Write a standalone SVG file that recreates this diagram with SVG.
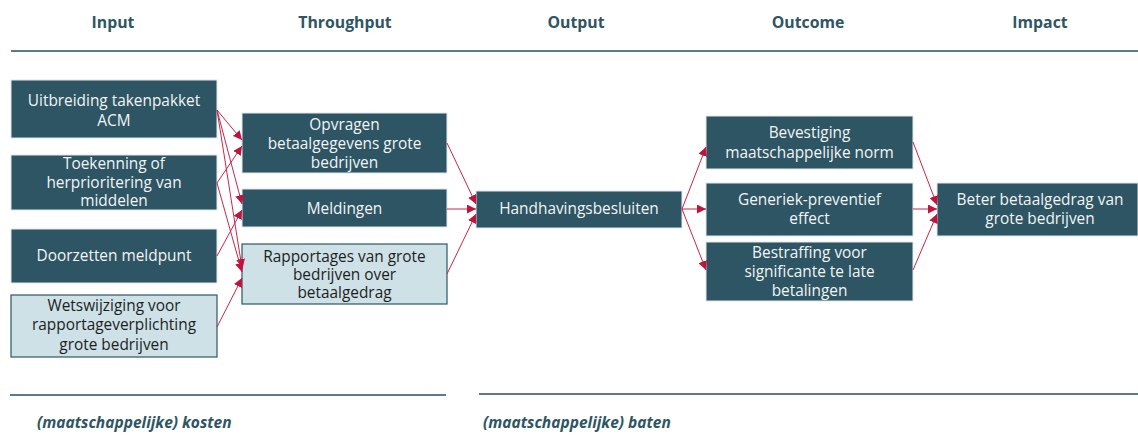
<svg xmlns="http://www.w3.org/2000/svg" width="1138" height="435" viewBox="0 0 1138 435">
<defs>
<marker id="ah" viewBox="0 0 10 10" refX="10" refY="5" markerWidth="9" markerHeight="9" markerUnits="userSpaceOnUse" orient="auto">
<path d="M0,0 L10,5 L0,10 z" fill="#c0143c"/>
</marker>
</defs>
<style>
.hdr{font-family:"Open Sans","Noto Sans",sans-serif;font-weight:bold;font-size:15.8px;fill:#2e5563;text-anchor:middle}
.ftr{font-family:"Open Sans","Noto Sans",sans-serif;font-weight:bold;font-style:italic;font-size:15.5px;fill:#2e5563}
.dark rect{fill:#2e5563;stroke:#dfe8ec;stroke-width:1}
.dark text{font-family:"Open Sans","Noto Sans",sans-serif;font-size:15.4px;fill:#f2f4f5;text-anchor:middle}
.light rect{fill:#cde1e7;stroke:#2e5563;stroke-width:1.2}
.light text{font-family:"Open Sans","Noto Sans",sans-serif;font-size:15.4px;fill:#1e1e1e;text-anchor:middle}
.rule{stroke:#5b7b89;stroke-width:2}
.conn line{stroke:#c8264a;stroke-width:1;marker-end:url(#ah)}
</style>
<rect width="1138" height="435" fill="#ffffff"/>
<g id="headers">
<text class="hdr" x="113" y="28">Input</text>
<text class="hdr" x="345" y="28">Throughput</text>
<text class="hdr" x="576" y="28">Output</text>
<text class="hdr" x="808" y="28">Outcome</text>
<text class="hdr" x="1040" y="28">Impact</text>
<line class="rule" x1="11" y1="51" x2="1138" y2="51"/>
</g>
<g id="n-uitbreiding" class="dark"><rect x="11" y="80" width="206" height="58"/><text x="114" y="106">Uitbreiding takenpakket</text><text x="114" y="126">ACM</text></g>
<g id="n-toekenning" class="dark"><rect x="11" y="155" width="206" height="55"/><text x="114" y="169">Toekenning of</text><text x="114" y="188">herprioritering  van</text><text x="114" y="206">middelen</text></g>
<g id="n-doorzetten" class="dark"><rect x="11" y="229" width="206" height="54"/><text x="114" y="261">Doorzetten meldpunt</text></g>
<g id="n-wetswijziging" class="light"><rect x="11" y="295" width="206" height="62"/><text x="114" y="311">Wetswijziging voor</text><text x="114" y="330">rapportageverplichting</text><text x="114" y="350">grote bedrijven</text></g>
<g id="n-opvragen" class="dark"><rect x="242" y="113" width="205" height="60"/><text x="344.5" y="130">Opvragen</text><text x="344.5" y="149">betaalgegevens grote</text><text x="344.5" y="168">bedrijven</text></g>
<g id="n-meldingen" class="dark"><rect x="242" y="189" width="205" height="38"/><text x="344.5" y="214">Meldingen</text></g>
<g id="n-rapportages" class="light"><rect x="242" y="244" width="205" height="60"/><text x="344.5" y="262">Rapportages van grote</text><text x="344.5" y="280">bedrijven over</text><text x="344.5" y="298">betaalgedrag</text></g>
<g id="n-handhaving" class="dark"><rect x="476" y="191" width="206" height="37"/><text x="579" y="214">Handhavingsbesluiten</text></g>
<g id="n-bevestiging" class="dark"><rect x="706" y="116" width="207" height="53"/><text x="809.5" y="138">Bevestiging</text><text x="809.5" y="158">maatschappelijke norm</text></g>
<g id="n-generiek" class="dark"><rect x="706" y="183" width="207" height="53"/><text x="809.5" y="205">Generiek-preventief</text><text x="809.5" y="224">effect</text></g>
<g id="n-bestraffing" class="dark"><rect x="706" y="242" width="207" height="59"/><text x="809.5" y="258">Bestraffing voor</text><text x="809.5" y="277">significante te late</text><text x="809.5" y="296">betalingen</text></g>
<g id="n-beter" class="dark"><rect x="937" y="183" width="201" height="53"/><text x="1040" y="205">Beter betaalgedrag van</text><text x="1040" y="224">grote bedrijven</text></g>
<g id="connectors" class="conn">
<line x1="217" y1="110" x2="242" y2="140"/>
<line x1="217" y1="110" x2="242" y2="204"/>
<line x1="217" y1="110" x2="242" y2="268"/>
<line x1="217" y1="183" x2="242" y2="146"/>
<line x1="217" y1="183" x2="242" y2="272"/>
<line x1="217" y1="256" x2="242" y2="210"/>
<line x1="217" y1="327" x2="242" y2="278"/>
<line x1="447" y1="143" x2="476" y2="204"/>
<line x1="447" y1="209" x2="476" y2="209"/>
<line x1="447" y1="274" x2="476" y2="214"/>
<line x1="682" y1="209" x2="706" y2="147"/>
<line x1="682" y1="209" x2="706" y2="209"/>
<line x1="682" y1="209" x2="706" y2="270"/>
<line x1="913" y1="142" x2="937" y2="205"/>
<line x1="913" y1="209" x2="937" y2="209"/>
<line x1="913" y1="270" x2="937" y2="214"/>
</g>
<g id="footer">
<line class="rule" x1="10" y1="395" x2="446" y2="395"/>
<line class="rule" x1="479" y1="394" x2="1138" y2="394"/>
<text class="ftr" x="37" y="428">(maatschappelijke) kosten</text>
<text class="ftr" x="483" y="428">(maatschappelijke) baten</text>
</g>
</svg>
